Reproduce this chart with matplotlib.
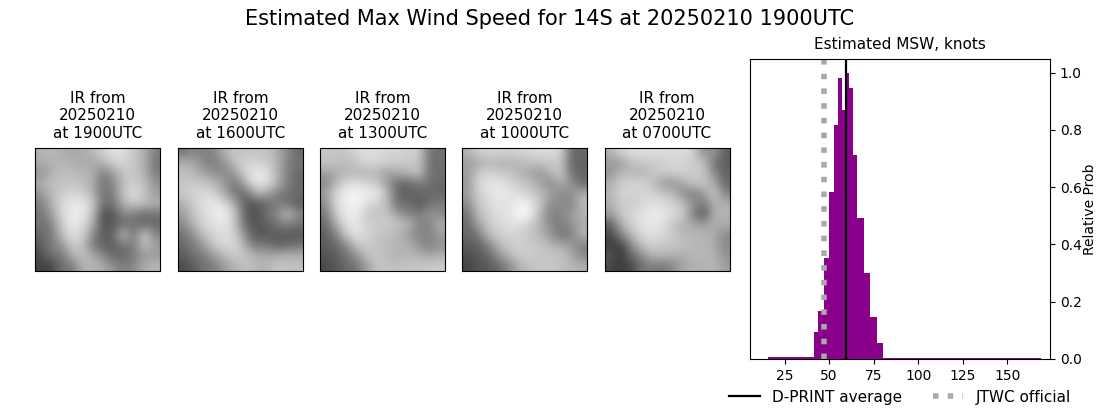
import matplotlib
matplotlib.use('Agg')
import matplotlib.pyplot as plt
import numpy as np

W, H = 1100, 409

image_times = ['1900', '1600', '1300', '1000', '0700']
image_left = [35, 178, 320, 462, 604.5]

ir_1900 = [
    [170, 180, 170, 160, 165, 175, 200, 215, 215, 190, 170, 120],
    [165, 170, 175, 170, 165, 160, 175, 200, 205, 190, 170, 110],
    [140, 165, 185, 180, 175, 170, 120, 150, 190, 195, 170, 120],
    [165, 185, 185, 190, 185, 170, 110, 130, 185, 195, 185, 140],
    [140, 175, 195, 205, 200, 175, 110, 120, 190, 215, 190, 150],
    [120, 165, 205, 225, 225, 200, 110, 110, 170, 190, 185, 170],
    [110, 145, 205, 225, 225, 190, 70, 85, 130, 120, 100, 110],
    [110, 120, 190, 225, 215, 170, 80, 85, 105, 110, 105, 100],
    [100, 110, 175, 215, 205, 140, 85, 100, 190, 110, 200, 130],
    [85, 120, 140, 195, 190, 120, 95, 90, 110, 120, 190, 150],
    [70, 110, 110, 165, 185, 170, 130, 100, 100, 120, 145, 150],
    [65, 60, 110, 110, 170, 175, 165, 140, 120, 130, 170, 175],
]
ir_1600 = [
    [110, 130, 120, 130, 175, 190, 185, 190, 185, 170, 130, 100],
    [170, 160, 130, 120, 140, 190, 205, 200, 195, 175, 125, 110],
    [185, 175, 155, 140, 130, 150, 205, 225, 220, 170, 120, 100],
    [190, 195, 190, 175, 150, 110, 175, 220, 215, 180, 120, 100],
    [190, 205, 210, 205, 160, 110, 100, 170, 160, 120, 110, 100],
    [170, 195, 215, 225, 210, 165, 85, 80, 100, 120, 110, 90],
    [150, 190, 210, 225, 235, 185, 90, 75, 110, 130, 190, 130],
    [130, 175, 205, 215, 220, 190, 100, 80, 90, 110, 120, 110],
    [110, 140, 185, 205, 215, 200, 130, 85, 85, 90, 85, 85],
    [100, 120, 150, 195, 205, 210, 160, 110, 120, 90, 100, 110],
    [90, 110, 120, 150, 180, 195, 190, 170, 165, 165, 175, 170],
    [70, 90, 110, 120, 150, 170, 185, 175, 170, 190, 185, 185],
]
ir_1300 = [
    [190, 190, 190, 205, 215, 210, 205, 205, 200, 200, 110, 110],
    [190, 185, 180, 190, 210, 205, 200, 195, 190, 190, 110, 105],
    [150, 165, 175, 175, 170, 175, 150, 165, 175, 190, 110, 105],
    [130, 170, 210, 215, 205, 190, 150, 100, 100, 120, 110, 100],
    [150, 205, 230, 235, 225, 230, 175, 100, 90, 100, 100, 100],
    [130, 205, 230, 235, 215, 195, 175, 100, 110, 80, 110, 120],
    [110, 195, 225, 225, 190, 190, 190, 150, 130, 120, 150, 130],
    [100, 160, 215, 225, 200, 195, 195, 190, 175, 130, 120, 170],
    [90, 120, 195, 215, 205, 190, 185, 170, 150, 125, 130, 150],
    [90, 100, 130, 190, 195, 185, 180, 175, 170, 145, 120, 140],
    [80, 90, 110, 140, 185, 190, 180, 170, 175, 170, 160, 170],
    [70, 85, 100, 110, 150, 190, 185, 185, 190, 190, 195, 195],
]
ir_1000 = [
    [170, 200, 205, 205, 200, 205, 205, 210, 210, 205, 100, 100],
    [150, 160, 175, 170, 170, 175, 185, 190, 190, 195, 100, 95],
    [150, 190, 205, 195, 190, 175, 160, 140, 180, 195, 110, 100],
    [140, 205, 220, 220, 205, 195, 180, 165, 125, 170, 140, 100],
    [150, 195, 215, 225, 220, 210, 200, 180, 160, 130, 140, 170],
    [130, 190, 205, 220, 215, 235, 225, 195, 130, 140, 125, 180],
    [110, 175, 200, 215, 215, 240, 235, 170, 125, 125, 150, 170],
    [100, 150, 190, 205, 215, 215, 195, 175, 130, 120, 140, 165],
    [100, 110, 180, 195, 205, 200, 190, 175, 145, 110, 120, 175],
    [85, 95, 120, 175, 195, 200, 195, 190, 175, 165, 150, 120],
    [75, 85, 100, 140, 175, 195, 195, 190, 190, 190, 165, 130],
    [65, 80, 85, 100, 130, 170, 185, 190, 190, 185, 175, 170],
]
ir_0700 = [
    [170, 205, 210, 215, 215, 210, 210, 210, 200, 130, 150, 90],
    [150, 145, 185, 190, 190, 200, 205, 205, 195, 190, 110, 90],
    [140, 180, 175, 170, 190, 195, 200, 200, 195, 190, 130, 95],
    [165, 195, 205, 205, 185, 150, 140, 165, 190, 190, 165, 100],
    [175, 205, 200, 205, 205, 190, 180, 130, 120, 150, 195, 125],
    [165, 195, 195, 205, 215, 215, 200, 190, 140, 115, 170, 170],
    [150, 190, 205, 215, 225, 225, 210, 195, 120, 80, 175, 170],
    [85, 165, 200, 215, 225, 215, 190, 170, 165, 150, 170, 165],
    [70, 120, 175, 205, 215, 205, 195, 175, 175, 175, 165, 130],
    [60, 60, 130, 185, 200, 190, 190, 185, 175, 175, 165, 130],
    [85, 50, 100, 130, 175, 175, 170, 165, 175, 175, 175, 140],
    [70, 55, 70, 110, 120, 110, 130, 160, 170, 170, 175, 150],
]
ir_images = [ir_1900, ir_1600, ir_1300, ir_1000, ir_0700]

# histogram of estimated wind speed
bin_edges = [15.6, 41.3, 43.5, 46.9, 49.7, 52.5, 54.8, 57, 59.1, 61, 63.2, 65.5,
             69.4, 72.8, 76.8, 80.1, 169]
rel_prob = [0.007, 0.096, 0.169, 0.354, 0.585, 0.819, 0.98, 0.87, 1.0, 0.945, 0.711,
            0.494, 0.302, 0.145, 0.057, 0.005]
dprint_avg = 59.3
jtwc_official = 46.9


def axes_px(x0, y0, x1, y1):
    return fig.add_axes([x0 / W, 1 - y1 / H, (x1 - x0) / W, (y1 - y0) / H])


fig = plt.figure(figsize=(W / 100, H / 100), dpi=100)
fig.suptitle('Estimated Max Wind Speed for 14S at 20250210 1900UTC', fontsize=15, x=0.5, y=0.978)

for left, hhmm, img in zip(image_left, image_times, ir_images):
    ax = axes_px(left, 147.5, left + 125, 271)
    ax.imshow(np.array(img), cmap='gray', vmin=0, vmax=245, interpolation='bicubic', aspect='auto')
    ax.set_xticks([])
    ax.set_yticks([])
    ax.set_title('IR from\n20250210\nat ' + hhmm + 'UTC', fontsize=11, pad=7)

ax = axes_px(750, 59, 1050, 359)
ax.stairs(rel_prob, bin_edges, fill=True, color='darkmagenta')
ax.axvline(dprint_avg, color='k', lw=1.6, label='D-PRINT average')
ax.axvline(jtwc_official, color='darkgray', ls=':', lw=4, label='JTWC official')
ax.set_xlim(5.6, 173.9)
ax.set_ylim(0, 1.048)
ax.set_xticks([25, 50, 75, 100, 125, 150])
ax.yaxis.tick_right()
ax.yaxis.set_label_position('right')
ax.set_ylabel('Relative Prob', labelpad=1)
ax.set_title('Estimated MSW, knots', fontsize=11, pad=7)
ax.legend(loc='upper center', bbox_to_anchor=(0.5, -0.056), ncol=2, frameon=False, fontsize=11)

fig.savefig('out.png', dpi=100)
